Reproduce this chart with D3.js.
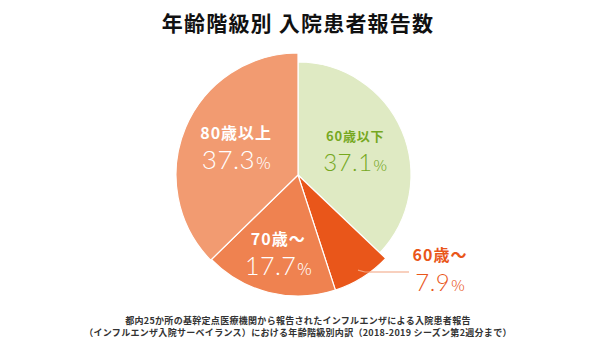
<!DOCTYPE html>
<html>
<head>
<meta charset="utf-8">
<script src="https://cdn.jsdelivr.net/npm/d3@7"></script>
<style>
  body { margin: 0; background: #fff; }
  svg text { font-family: "Noto Sans CJK JP", "Noto Sans", sans-serif; }
</style>
</head>
<body>
<svg id="chart" width="600" height="351"></svg>
<script>
// age group pie

var title = "年齢階級別 入院患者報告数";
var labels = ["60歳以下", "60歳〜", "70歳〜", "80歳以上"];
var values = [37.1, 7.9, 17.7, 37.3];
var notes = [
    "都内25か所の基幹定点医療機関から報告されたインフルエンザによる入院患者報告",
    "（インフルエンザ入院サーベイランス）における年齢階級別内訳（2018-2019 シーズン第2週分まで）"
];

var fills = ["#dfeac3", "#e9561a", "#ef8250", "#f29b71"];
var textCols = ["#76a81f", "#e9561a", "#fff", "#fff"];

var svg = d3.select("#chart");
var cx = 298, cy = 175;

// outer radius per slice (green one sits a bit smaller)
var radius = [113, 121, 121, 122];

svg.append("text")
    .attr("x", 298)
    .attr("y", 31)
    .attr("text-anchor", "middle")
    .attr("font-size", 21)
    .attr("font-weight", "bold")
    .attr("letter-spacing", 1.2)
    .attr("fill", "#111")
    .text(title);

var pie = d3.pie().sort(null).value(function(d) { return d; });
var arcs = pie(values);

var g = svg.append("g")
    .attr("transform", "translate(" + cx + "," + cy + ")");

g.selectAll("path.slice")
    .data(arcs)
    .enter().append("path")
    .attr("class", "slice")
    .attr("fill", function(d, i) { return fills[i]; })
    .attr("stroke", "#fff")
    .attr("stroke-width", 1.2)
    .attr("d", function(d, i) {
        return d3.arc().innerRadius(0).outerRadius(radius[i])(d);
    });

// label placement: fraction of radius along mid angle
var lab = [
    {r: 0.55, fs1: 13, fs2: 24, ls: 0.8},
    {r: 1.4, fs1: 16, fs2: 24, ls: 1},
    {r: 0.68, fs1: 16, fs2: 25, ls: 1},
    {r: 0.55, fs1: 16, fs2: 26, ls: 1}
];

arcs.forEach(function(d, i) {
    var a = (d.startAngle + d.endAngle) / 2;
    var rr = radius[i] * lab[i].r;
    var x = Math.sin(a) * rr;
    var y = -Math.cos(a) * rr;
    if (i == 1) {
        // outside label for small slice
        var p0 = [Math.sin(a) * radius[i] * 0.93, -Math.cos(a) * radius[i] * 0.93];
        g.append("polyline")
            .attr("points", [p0, [p0[0] + 7, 97], [111, 97]].map(function(p) { return p.join(","); }).join(" "))
            .attr("fill", "none")
            .attr("stroke", "#f2a27f")
            .attr("stroke-width", 1.2);
        x = 142; y = 96;
    }
    g.append("text")
        .attr("x", x)
        .attr("y", y - 10)
        .attr("text-anchor", "middle")
        .attr("font-size", lab[i].fs1)
        .attr("font-weight", "bold")
        .attr("letter-spacing", lab[i].ls)
        .attr("fill", textCols[i])
        .text(labels[i]);
    var t = g.append("text")
        .attr("x", x)
        .attr("y", y + 20)
        .attr("text-anchor", "middle")
        .attr("fill", textCols[i])
        .attr("font-weight", 300);
    t.append("tspan")
        .attr("font-size", lab[i].fs2)
        .attr("font-family", "Lato, 'Noto Sans', sans-serif")
        .attr("letter-spacing", 0.5)
        .text(values[i].toFixed(1));
    t.append("tspan")
        .attr("font-size", Math.round(lab[i].fs2 * 0.62))
        .attr("dx", 1)
        .text("%");
});

svg.selectAll("text.note")
    .data(notes)
    .enter().append("text")
    .attr("class", "note")
    .attr("x", 298)
    .attr("y", function(d, i) { return 324 + i * 12; })
    .attr("text-anchor", "middle")
    .attr("font-size", 9)
    .attr("font-weight", "bold")
    .attr("letter-spacing", 0.3)
    .attr("fill", "#333")
    .text(function(d) { return d; });
</script>
</body>
</html>
